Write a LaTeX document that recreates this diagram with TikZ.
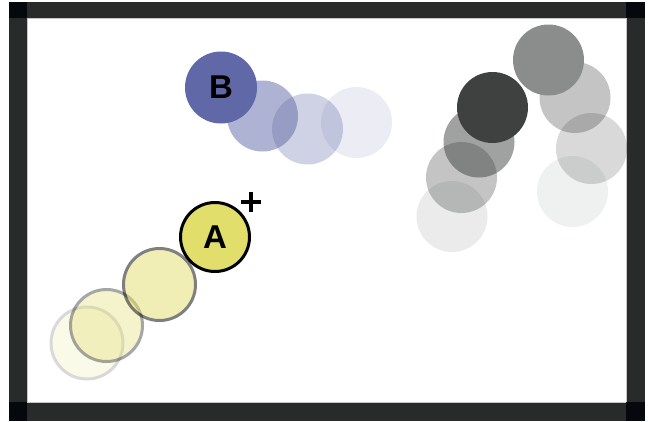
\documentclass[tikz,border=0pt]{standalone}
\usepackage{fontspec}
\setsansfont{Liberation Sans}
\definecolor{framegrey}{HTML}{282B2A}
\definecolor{cornerblack}{HTML}{05080C}
\definecolor{yellowA}{HTML}{E2DE6C}
\definecolor{blueB}{HTML}{6168A8}
\definecolor{darkgrey}{HTML}{3E4140}

\begin{document}
\begin{tikzpicture}[x=1pt,y=-1pt]
    \useasboundingbox (0,0) rectangle (648,421);
    % Draw frame
    \fill[framegrey] (9,2) rectangle (645,421);
    \draw[fill=white,draw=gray!45,line width=1pt] (27,18) rectangle (626,402);
    \fill[cornerblack] (9,2) rectangle (27,18);
    \fill[cornerblack] (626,2) rectangle (645,18);
    \fill[cornerblack] (9,402) rectangle (27,421);
    \fill[cornerblack] (626,402) rectangle (645,421);

    % Draw trail of the grey circles
    \foreach \cx/\cy/\op in {452/216.5/0.1, 461.5/177.5/0.31, 479/142/0.49,
        572.5/191.5/0.08, 591.5/148.5/0.2, 575/97.5/0.31}
        \fill[darkgrey, opacity=\op] (\cx,\cy) circle (35.5);
    \fill[darkgrey!60!white] (548.5,60) circle (35.5);
    \fill[darkgrey] (492.5,107.5) circle (35.5);

    % Draw trail of B
    \foreach \cx/\cy/\op in {356.5/122.5/0.12, 307.5/129/0.3, 262.5/116/0.5}
        \fill[blueB, opacity=\op] (\cx,\cy) circle (35.5);
    \node[circle, fill=blueB, minimum size=72pt, inner sep=0pt,
        font=\sffamily\bfseries\fontsize{33}{33}\selectfont] (B) at (221,87.5) {B};

    % Draw trail of A (each ghost flattened before it is faded)
    \foreach \cx/\cy/\op in {87/343/0.15, 106.5/325.5/0.35, 159.5/284.5/0.5} {
        \begin{scope}[transparency group, opacity=\op]
            \draw[black, fill=yellowA, line width=3pt] (\cx,\cy) circle (36);
        \end{scope}
    }
    \node[circle, draw=black, fill=yellowA, line width=3pt, minimum size=69pt, inner sep=0pt,
        font=\sffamily\bfseries\fontsize{33}{33}\selectfont] (A) at (215,237) {A};
    % Draw the plus sign next to A
    \coordinate (plus) at (251,201.7);
    \draw[line width=4pt] ([xshift=-10pt]plus) -- ([xshift=10pt]plus)
        ([yshift=-10pt]plus) -- ([yshift=10pt]plus);
\end{tikzpicture}
\end{document}
